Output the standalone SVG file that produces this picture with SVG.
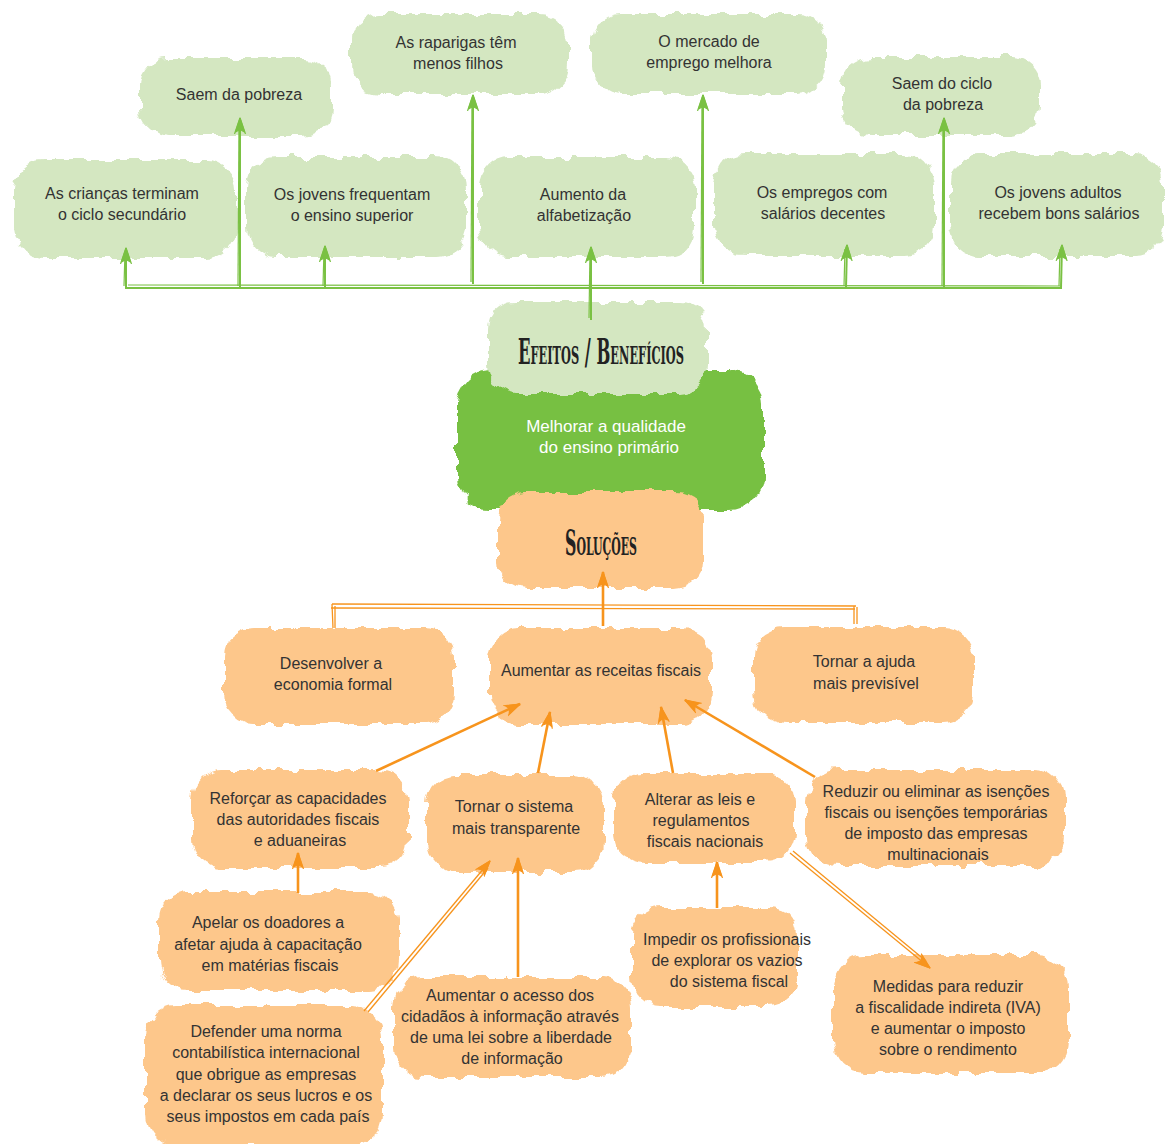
<svg xmlns="http://www.w3.org/2000/svg" width="1166" height="1144" viewBox="0 0 1166 1144">
<defs>
<filter id="rough" x="-10%" y="-15%" width="120%" height="130%">
<feTurbulence type="fractalNoise" baseFrequency="0.07" numOctaves="2" seed="5" result="n"/>
<feDisplacementMap in="SourceGraphic" in2="n" scale="12" xChannelSelector="R" yChannelSelector="G"/>
</filter>
<marker id="ag" viewBox="0 0 18 16" markerWidth="18" markerHeight="16" refX="16" refY="8" orient="auto" markerUnits="userSpaceOnUse">
<path d="M16,8 L2,3.5 L4.5,8 L2,12.5 Z" fill="#7ac143" stroke="#7ac143" stroke-width="1.2" stroke-linejoin="round"/>
<path d="M16,8 L0,2.5 M16,8 L0,13.5" stroke="#7ac143" stroke-width="1.2" fill="none"/>
</marker>
<marker id="ao" viewBox="0 0 18 16" markerWidth="18" markerHeight="16" refX="16" refY="8" orient="auto" markerUnits="userSpaceOnUse">
<path d="M16,8 L2,3.5 L4.5,8 L2,12.5 Z" fill="#f7941d" stroke="#f7941d" stroke-width="1.2" stroke-linejoin="round"/>
<path d="M16,8 L0,2.5 M16,8 L0,13.5" stroke="#f7941d" stroke-width="1.2" fill="none"/>
</marker>
</defs>
<style>
.lg{fill:#d4e7c1;filter:url(#rough)}
.mg{fill:#77c043;filter:url(#rough)}
.or{fill:#fdc78b;filter:url(#rough)}
text{font-family:"Liberation Sans",Arial,sans-serif;font-size:16px;fill:#333;text-anchor:middle}
.w{fill:#fff;font-size:17px}
.t{font-family:"DejaVu Serif Condensed","Liberation Serif",serif;font-weight:bold;font-variant:small-caps;font-size:36px;fill:#222}
.gl{stroke:#7ac143;stroke-width:2;fill:none}
.gl1{stroke:#7ac143;stroke-width:1.2;fill:none}
.ol{stroke:#f7941d;stroke-width:2.6;fill:none}
.ol1{stroke:#f7941d;stroke-width:1.3;fill:none}
</style>

<g id="nA"><rect class="lg" x="14" y="160" width="222" height="98" rx="30"/><text x="122" y="199">As crianças terminam</text><text x="122" y="220">o ciclo secundário</text></g>
<g id="nB"><rect class="lg" x="140" y="58" width="192" height="78" rx="28"/><text x="239" y="100">Saem da pobreza</text></g>
<g id="nC"><rect class="lg" x="246" y="157" width="220" height="100" rx="30"/><text x="352" y="200">Os jovens frequentam</text><text x="352" y="221">o ensino superior</text></g>
<g id="nD"><rect class="lg" x="352" y="14" width="216" height="80" rx="28"/><text x="456" y="48">As raparigas têm</text><text x="458" y="69">menos filhos</text></g>
<g id="nE"><rect class="lg" x="479" y="157" width="216" height="100" rx="30"/><text x="583" y="200">Aumento da</text><text x="584" y="221">alfabetização</text></g>
<g id="nF"><rect class="lg" x="592" y="14" width="234" height="80" rx="28"/><text x="709" y="47">O mercado de</text><text x="709" y="68">emprego melhora</text></g>
<g id="nG"><rect class="lg" x="714" y="154" width="220" height="102" rx="30"/><text x="822" y="198">Os empregos com</text><text x="823" y="219">salários decentes</text></g>
<g id="nH"><rect class="lg" x="842" y="57" width="198" height="78" rx="28"/><text x="942" y="89">Saem do ciclo</text><text x="943" y="110">da pobreza</text></g>
<g id="nI"><rect class="lg" x="950" y="154" width="214" height="102" rx="30"/><text x="1058" y="198">Os jovens adultos</text><text x="1059" y="219">recebem bons salários</text></g>

<g id="nMelhorar"><rect class="mg" x="457" y="370" width="306" height="140" rx="34"/><text class="w" x="606" y="432">Melhorar a qualidade</text><text class="w" x="609" y="453">do ensino primário</text></g>
<g id="nEfeitos"><rect class="lg" x="489" y="302" width="218" height="92" rx="28"/><text class="t" x="601" y="364" textLength="166" lengthAdjust="spacingAndGlyphs">Efeitos / Benefícios</text></g>
<g id="nSolucoes"><rect class="or" x="498" y="492" width="206" height="96" rx="28"/><text class="t" x="601" y="555" textLength="72" lengthAdjust="spacingAndGlyphs">Soluções</text></g>

<g id="nDesenvolver"><rect class="or" x="224" y="628" width="230" height="96" rx="30"/><text x="331" y="669">Desenvolver a</text><text x="333" y="690">economia formal</text></g>
<g id="nAumentar"><rect class="or" x="489" y="628" width="222" height="96" rx="30"/><text x="601" y="676">Aumentar as receitas fiscais</text></g>
<g id="nTornarAjuda"><rect class="or" x="754" y="627" width="220" height="95" rx="30"/><text x="864" y="667">Tornar a ajuda</text><text x="866" y="689">mais previsível</text></g>
<g id="nReforcar"><rect class="or" x="192" y="770" width="216" height="98" rx="30"/><text x="298" y="804">Reforçar as capacidades</text><text x="298" y="825">das autoridades fiscais</text><text x="300" y="846">e aduaneiras</text></g>
<g id="nTornarSistema"><rect class="or" x="427" y="774" width="176" height="98" rx="30"/><text x="514" y="812">Tornar o sistema</text><text x="516" y="834">mais transparente</text></g>
<g id="nAlterar"><rect class="or" x="614" y="774" width="180" height="88" rx="28"/><text x="700" y="805">Alterar as leis e</text><text x="701" y="826">regulamentos</text><text x="705" y="847">fiscais nacionais</text></g>
<g id="nReduzir"><rect class="or" x="807" y="770" width="257" height="96" rx="30"/><text x="936" y="797">Reduzir ou eliminar as isenções</text><text x="936" y="818">fiscais ou isenções temporárias</text><text x="936" y="839">de imposto das empresas</text><text x="938" y="860">multinacionais</text></g>
<g id="nApelar"><rect class="or" x="159" y="892" width="240" height="98" rx="30"/><text x="268" y="928">Apelar os doadores a</text><text x="268" y="950">afetar ajuda à capacitação</text><text x="270" y="971">em matérias fiscais</text></g>
<g id="nDefender"><rect class="or" x="145" y="1006" width="238" height="140" rx="32"/><text x="266" y="1037">Defender uma norma</text><text x="266" y="1058">contabilística internacional</text><text x="266" y="1080">que obrigue as empresas</text><text x="266" y="1101">a declarar os seus lucros e os</text><text x="268" y="1122">seus impostos em cada país</text></g>
<g id="nAcesso"><rect class="or" x="394" y="977" width="237" height="100" rx="30"/><text x="510" y="1001">Aumentar o acesso dos</text><text x="510" y="1022">cidadãos à informação através</text><text x="511" y="1043">de uma lei sobre a liberdade</text><text x="512" y="1064">de informação</text></g>
<g id="nImpedir"><rect class="or" x="632" y="907" width="166" height="100" rx="30"/><text x="727" y="945">Impedir os profissionais</text><text x="727" y="966">de explorar os vazios</text><text x="729" y="987">do sistema fiscal</text></g>
<g id="nMedidas"><rect class="or" x="832" y="955" width="236" height="118" rx="32"/><text x="948" y="992">Medidas para reduzir</text><text x="948" y="1013">a fiscalidade indireta (IVA)</text><text x="948" y="1034">e aumentar o imposto</text><text x="948" y="1055">sobre o rendimento</text></g>

<g id="connectors">
<path class="gl" d="M125,288 L1062,288"/>
<path class="gl1" d="M128,285 L1060,286"/>
<path class="gl" d="M126,288 L126,248" marker-end="url(#ag)"/><path class="gl1" d="M124,286 L125,252"/>
<path class="gl" d="M240,288 L240,118" marker-end="url(#ag)"/><path class="gl1" d="M238,286 L239,122"/>
<path class="gl" d="M325,288 L325,246" marker-end="url(#ag)"/><path class="gl1" d="M323,286 L324,250"/>
<path class="gl" d="M473,284 L473,95" marker-end="url(#ag)"/><path class="gl1" d="M471,282 L472,99"/>
<path class="gl" d="M591,320 L591,247" marker-end="url(#ag)"/><path class="gl1" d="M589,318 L590,251"/>
<path class="gl" d="M703,284 L703,95" marker-end="url(#ag)"/><path class="gl1" d="M701,282 L702,99"/>
<path class="gl" d="M846,288 L847,245" marker-end="url(#ag)"/><path class="gl1" d="M844,286 L845,249"/>
<path class="gl" d="M944,288 L944,118" marker-end="url(#ag)"/><path class="gl1" d="M942,286 L943,122"/>
<path class="gl" d="M1061,288 L1062,245" marker-end="url(#ag)"/><path class="gl1" d="M1059,286 L1060,249"/>

<path class="ol" d="M603,626 L603,572" marker-end="url(#ao)"/>
<path class="ol1" d="M332,604 L856,606 M331,608 L855,609"/>
<path class="ol1" d="M332,604 L333,628 M335,606 L335,628"/>
<path class="ol1" d="M854,606 L854,624 M857,607 L857,624"/>
<path class="ol" d="M376,771 L520,704" marker-end="url(#ao)"/>
<path class="ol" d="M538,773 L550,712" marker-end="url(#ao)"/>
<path class="ol" d="M673,773 L661,707" marker-end="url(#ao)"/>
<path class="ol" d="M815,777 L685,700" marker-end="url(#ao)"/>
<path class="ol" d="M298,893 L298,853" marker-end="url(#ao)"/>
<path class="ol1" d="M364,1011 L490,861" marker-end="url(#ao)"/><path class="ol1" d="M368,1012 L488,868"/>
<path class="ol" d="M518,977 L518,858" marker-end="url(#ao)"/>
<path class="ol" d="M717,908 L717,862" marker-end="url(#ao)"/>
<path class="ol1" d="M790,853 L930,968" marker-end="url(#ao)"/><path class="ol1" d="M793,851 L926,961"/>
</g>
</svg>
